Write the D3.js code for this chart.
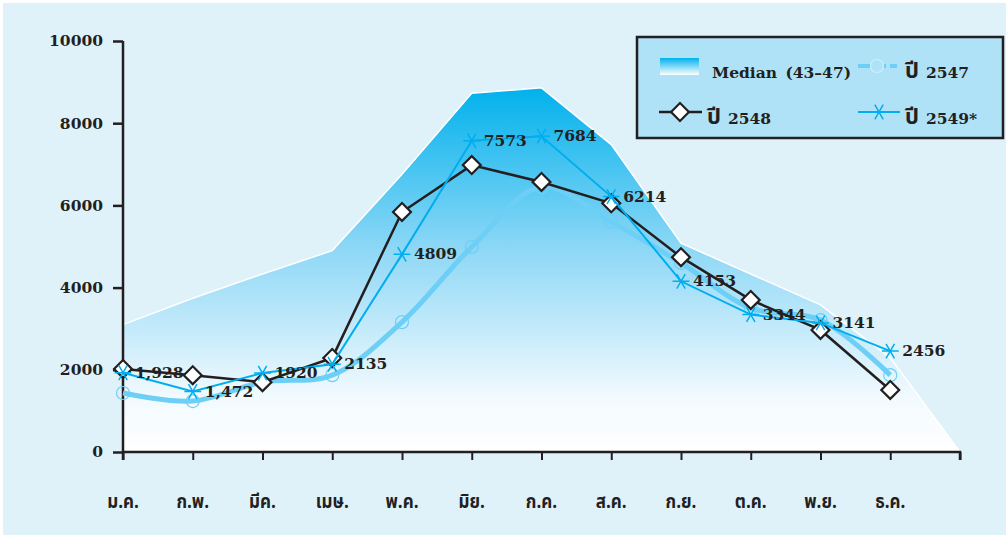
<!DOCTYPE html>
<html>
<head>
<meta charset="utf-8">
<script src="https://cdn.jsdelivr.net/npm/d3@7"></script>
<style>
  html, body { margin: 0; padding: 0; background: #ffffff; }
  svg { display: block; }
  .num { font-family: "DejaVu Serif", serif; font-weight: bold; fill: #231f20; }
  .thai { font-family: "Noto Sans Thai", "Loma", "Garuda", "Norasi", "Waree", sans-serif; fill: #231f20; }
</style>
</head>
<body>
<svg id="chart" width="1006" height="537"></svg>
<script>
// ---- data ----
const months = ["ม.ค.", "ก.พ.", "มีค.", "เมษ.", "พ.ค.", "มิย.", "ก.ค.", "ส.ค.", "ก.ย.", "ต.ค.", "พ.ย.", "ธ.ค."];
const yTicks = [0, 2000, 4000, 6000, 8000, 10000];
// median 43-47 (area); last value closes the area at the axis end
const median = [3100, 3740, 4330, 4900, 6760, 8730, 8860, 7480, 5080, 4330, 3580, 2290, 0];
const y2547 = [1435, 1240, 1700, 1870, 3160, 4990, 6450, 5600, 4600, 3500, 3210, 1870];
const y2548 = [2020, 1870, 1700, 2290, 5840, 6980, 6570, 6050, 4740, 3700, 2970, 1510];
const y2549 = [1928, 1472, 1920, 2135, 4809, 7573, 7684, 6214, 4153, 3344, 3141, 2456];
const labels2549 = ["1,928", "1,472", "1920", "2135", "4809", "7573", "7684", "6214", "4153", "3344", "3141", "2456"];
const legendThai = ["", "ปี", "ปี", "ปี"];
const legendRest = ["Median (43–47)", "2547", "2548", "2549*"];

// ---- layout ----
const svg = d3.select("#chart");
const x = d3.scaleLinear().domain([0, 12]).range([123, 960]);
const y = d3.scaleLinear().domain([0, 10000]).range([452, 41]);

svg.append("rect").attr("x", 3).attr("y", 3).attr("width", 1003).attr("height", 532).attr("fill", "#dff2fa");

const defs = svg.append("defs");
const g1 = defs.append("linearGradient").attr("id", "medGrad")
  .attr("gradientUnits", "userSpaceOnUse").attr("x1", 0).attr("x2", 0).attr("y1", y(8900)).attr("y2", y(0));
g1.append("stop").attr("offset", "0").attr("stop-color", "#00b1ec");
g1.append("stop").attr("offset", "0.45").attr("stop-color", "#8fd8f6");
g1.append("stop").attr("offset", "0.85").attr("stop-color", "#f2fafe");
g1.append("stop").attr("offset", "1").attr("stop-color", "#ffffff");
const g2 = defs.append("linearGradient").attr("id", "legGrad")
  .attr("x1", 0).attr("x2", 0).attr("y1", 0).attr("y2", 1);
g2.append("stop").attr("offset", "0").attr("stop-color", "#00b1ec");
g2.append("stop").attr("offset", "1").attr("stop-color", "#ffffff");

// median area
const area = d3.area().x((d, i) => x(i)).y0(y(0)).y1(d => y(d));
svg.append("path").datum(median).attr("d", area).attr("fill", "url(#medGrad)");
svg.append("path").datum(median).attr("d", d3.line().x((d, i) => x(i)).y(d => y(d)))
  .attr("fill", "none").attr("stroke", "#ffffff").attr("stroke-width", 1.5);

// axes
const yAxis = d3.axisLeft(y).tickValues(yTicks).tickSize(10).tickPadding(10).tickFormat(d3.format("d"));
const ya = svg.append("g").attr("transform", "translate(123,0)").call(yAxis);
ya.select(".domain").remove();
ya.selectAll("line").attr("stroke", "#231f20").attr("stroke-width", 2.5);
ya.selectAll("text").attr("class", "num").style("font-size", "15.5px");
svg.append("line").attr("x1", 123).attr("x2", 123).attr("y1", y(10000)).attr("y2", 460)
  .attr("stroke", "#231f20").attr("stroke-width", 2.5);

const xAxis = d3.axisBottom(x).tickValues(d3.range(0, 13)).tickSize(8).tickFormat(() => "");
const xa = svg.append("g").attr("transform", `translate(0,${y(0)})`).call(xAxis);
xa.select(".domain").attr("d", `M123,0H960V8`).attr("stroke", "#231f20").attr("stroke-width", 2.5).attr("fill", "none");
xa.selectAll("line").attr("stroke", "#231f20").attr("stroke-width", 2);
svg.append("g").selectAll("text").data(months).join("text")
  .attr("class", "thai").attr("x", (d, i) => x(i)).attr("y", 508)
  .attr("text-anchor", "middle").style("font-size", "20px").style("font-weight", "bold")
  .attr("transform", (d, i) => `translate(${x(i)},0) scale(0.85,1) translate(${-x(i)},0)`)
  .text(d => d);

// 2547 line
const smooth = d3.line().x((d, i) => x(i)).y(d => y(d)).curve(d3.curveCatmullRom.alpha(0.5));
svg.append("path").datum(y2547).attr("d", smooth).attr("fill", "none")
  .attr("stroke", "#6dcff6").attr("stroke-width", 5).attr("stroke-linejoin", "round");
svg.append("g").selectAll("circle").data(y2547).join("circle")
  .attr("cx", (d, i) => x(i)).attr("cy", d => y(d)).attr("r", 6.5)
  .attr("fill", "none").attr("stroke", "#6dcff6").attr("stroke-width", 1.2);

// 2548 line
const straight = d3.line().x((d, i) => x(i)).y(d => y(d));
svg.append("path").datum(y2548).attr("d", straight).attr("fill", "none")
  .attr("stroke", "#231f20").attr("stroke-width", 2.5);
const diamond = d3.symbol().type(d3.symbolSquare).size(160);
svg.append("g").selectAll("path").data(y2548).join("path")
  .attr("d", diamond).attr("transform", (d, i) => `translate(${x(i)},${y(d)}) rotate(45)`)
  .attr("fill", "#ffffff").attr("stroke", "#231f20").attr("stroke-width", 2.2);

// 2549 line
svg.append("path").datum(y2549).attr("d", straight).attr("fill", "none")
  .attr("stroke", "#00aeef").attr("stroke-width", 2);
const star = d3.symbol().type(d3.symbolAsterisk).size(200);
svg.append("g").selectAll("path").data(y2549).join("path")
  .attr("d", star).attr("transform", (d, i) => `translate(${x(i)},${y(d)}) rotate(90)`)
  .attr("fill", "none").attr("stroke", "#00aeef").attr("stroke-width", 1.5);
svg.append("g").selectAll("text").data(y2549).join("text")
  .attr("class", "num").attr("x", (d, i) => x(i) + 12).attr("y", d => y(d) + 5)
  .style("font-size", "15.5px").text((d, i) => labels2549[i]);

// legend
const lg = svg.append("g");
lg.append("rect").attr("x", 637).attr("y", 37).attr("width", 366).attr("height", 101)
  .attr("fill", "#b0e2f7").attr("stroke", "#231f20").attr("stroke-width", 2.5);
lg.append("rect").attr("x", 660).attr("y", 58).attr("width", 39).attr("height", 17).attr("fill", "url(#legGrad)");
function legendText(px, py, i) {
  const t = lg.append("text").attr("x", px).attr("y", py);
  if (legendThai[i]) {
    t.append("tspan").attr("class", "thai").style("font-size", "22px").style("font-weight", "bold").text(legendThai[i]);
    t.append("tspan").attr("class", "num").attr("dx", 7).style("font-size", "15.5px").text(legendRest[i]);
  } else {
    t.append("tspan").attr("class", "num").style("font-size", "15.5px").style("word-spacing", "3px").text(legendRest[i]);
  }
}
legendText(712, 78, 0);
// 2547 legend
lg.append("line").attr("x1", 858).attr("x2", 897).attr("y1", 66).attr("y2", 66)
  .attr("stroke", "#6dcff6").attr("stroke-width", 4).attr("stroke-dasharray", "12,4");
lg.append("circle").attr("cx", 877).attr("cy", 66).attr("r", 6.5).attr("fill", "#b0e2f7")
  .attr("stroke", "#cfeefb").attr("stroke-width", 1.2);
legendText(905, 78, 1);
// 2548 legend
lg.append("line").attr("x1", 659).attr("x2", 702).attr("y1", 112).attr("y2", 112)
  .attr("stroke", "#231f20").attr("stroke-width", 2.5);
lg.append("path").attr("d", diamond).attr("transform", "translate(680,112) rotate(45)")
  .attr("fill", "#ffffff").attr("stroke", "#231f20").attr("stroke-width", 2.2);
legendText(707, 124, 2);
// 2549 legend
lg.append("line").attr("x1", 858).attr("x2", 900).attr("y1", 112).attr("y2", 112)
  .attr("stroke", "#00aeef").attr("stroke-width", 2);
lg.append("path").attr("d", star).attr("transform", "translate(879,112) rotate(90)")
  .attr("fill", "none").attr("stroke", "#00aeef").attr("stroke-width", 1.5);
legendText(905, 124, 3);
</script>
</body>
</html>
